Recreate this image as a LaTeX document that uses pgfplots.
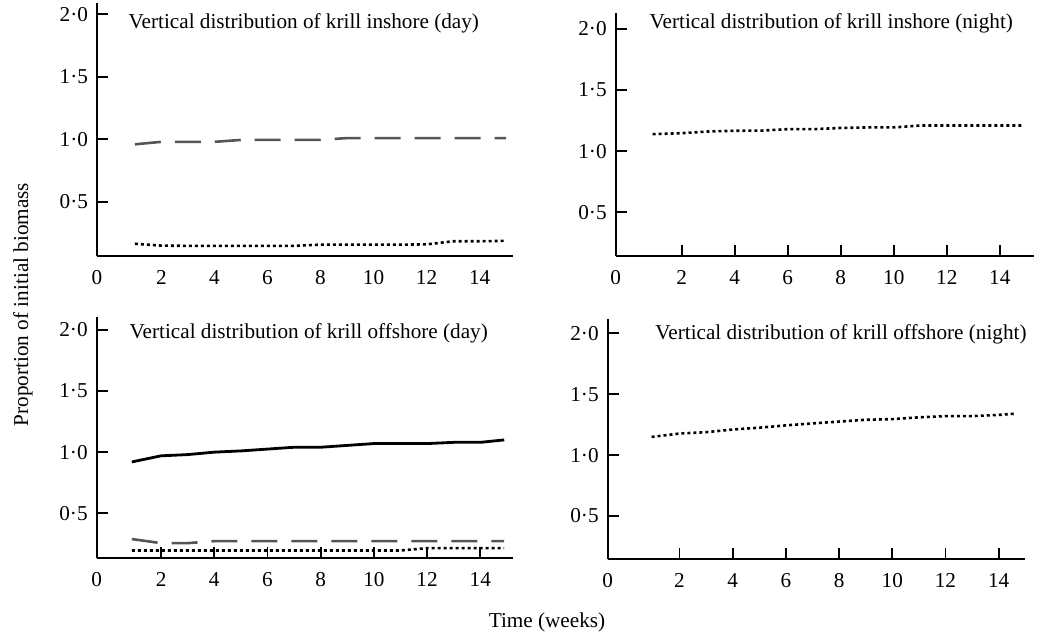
\documentclass[border=0pt]{standalone}
\usepackage{fontspec}
\setmainfont{Liberation Serif}
\usepackage{pgfplots}
\pgfplotsset{compat=1.18}

\definecolor{dashgray}{HTML}{555555}

% shared look of the four panels
\pgfplotsset{
  krill/.style={
    scale only axis,
    axis x line=bottom,
    axis y line=left,
    axis line style={-, line width=1pt},
    tick align=inside,
    major tick length=5.5pt,
    tick style={line width=0.9pt, black},
    ytick={0.5,1,1.5,2},
    yticklabels={0·5,1·0,1·5,2·0},
    font=\fontsize{10.6}{12.6}\selectfont,
    ticklabel style={font=\fontsize{10.6}{12.6}\selectfont},
    xticklabel style={anchor=north, text height=7.3pt, text depth=0pt, inner sep=0pt, yshift=-6.8pt},
    yticklabel style={xshift=-1pt},
    clip=false,
  },
  dotline/.style={black, line width=1.3pt, dash pattern=on 1.5pt off 1.5pt},
  dashline/.style={dashgray, line width=1.3pt, dash pattern=on 13pt off 7pt},
  solidline/.style={black, line width=1.4pt},
}

\begin{document}
\begin{tikzpicture}
\useasboundingbox (0,0) rectangle (518.5pt,-316pt);

% inshore, day
\begin{axis}[krill,
  at={(48.5pt,-128pt)}, anchor=south west,
  width=208pt, height=126.5pt,
  xmin=-0.43, xmax=15.26, ymin=0.067, ymax=2.09,
  xtick={-0.43,2,4,6,8,10,12,14}, xticklabels={0,2,4,6,8,10,12,14},
  xtick style={draw=none}]
\addplot[dashline] coordinates {(1,0.96) (2,0.98) (3,0.98) (4,0.98) (5,0.995) (6,0.995) (7,0.995) (8,0.995) (9,1.01) (10,1.01) (11,1.01) (12,1.01) (13,1.01) (14,1.01) (15,1.01)};
\addplot[dotline] coordinates {(1,0.165) (2,0.15) (3,0.148) (4,0.148) (5,0.148) (6,0.148) (7,0.148) (8,0.158) (9,0.158) (10,0.158) (11,0.158) (12,0.16) (13,0.185) (14,0.185) (15,0.188)};
\end{axis}

% inshore, night
\begin{axis}[krill,
  at={(307.85pt,-128pt)}, anchor=south west,
  width=209.15pt, height=121.35pt,
  xmin=-0.49, xmax=15.29, ymin=0.142, ymax=2.128,
  xtick={-0.49,2,4,6,8,10,12,14}, xticklabels={0,2,4,6,8,10,12,14}]
\addplot[dotline] coordinates {(0.9,1.139) (2,1.147) (3,1.161) (4,1.167) (5,1.168) (6,1.18) (7,1.18) (8,1.19) (9,1.194) (10,1.194) (11,1.21) (12,1.21) (13,1.21) (14,1.21) (14.9,1.21)};
\end{axis}

% offshore, day
\begin{axis}[krill,
  at={(48.35pt,-279.15pt)}, anchor=south west,
  width=208.15pt, height=120.8pt,
  xmin=-0.42, xmax=15.23, ymin=0.133, ymax=2.106,
  xtick={-0.42,2,4,6,8,10,12,14}, xticklabels={0,2,4,6,8,10,12,14}]
\addplot[solidline] coordinates {(0.9,0.92) (2,0.97) (3,0.98) (4,1.0) (5,1.01) (6,1.025) (7,1.04) (8,1.04) (9,1.055) (10,1.07) (11,1.07) (12,1.07) (13,1.08) (14,1.08) (14.9,1.10)};
\addplot[dashline] coordinates {(0.9,0.29) (2,0.257) (3,0.257) (4,0.273) (5,0.273) (6,0.273) (7,0.273) (8,0.273) (9,0.273) (10,0.273) (11,0.273) (12,0.273) (13,0.273) (14,0.273) (14.9,0.273)};
\addplot[dotline] coordinates {(0.9,0.197) (2,0.197) (3,0.197) (4,0.197) (5,0.197) (6,0.197) (7,0.197) (8,0.197) (9,0.197) (10,0.197) (11,0.197) (12,0.216) (13,0.216) (14,0.216) (14.9,0.216)};
\end{axis}

% offshore, night
\begin{axis}[krill,
  at={(303.85pt,-279.65pt)}, anchor=south west,
  width=208.65pt, height=120pt,
  xmin=-0.70, xmax=14.99, ymin=0.144, ymax=2.115,
  xtick={-0.70,2,4,6,8,10,12,14}, xticklabels={0,2,4,6,8,10,12,14}]
\addplot[dotline] coordinates {(0.95,1.149) (2,1.177) (3,1.188) (4,1.21) (5,1.225) (6,1.244) (7,1.26) (8,1.275) (9,1.29) (10,1.295) (11,1.31) (12,1.32) (13,1.32) (14,1.33) (14.6,1.34)};
\end{axis}

% panel titles and shared axis labels
\begin{scope}[every node/.style={inner sep=0pt, font=\fontsize{10.6}{12.6}\selectfont}]
\node[anchor=base west] at (64.15pt,-14pt) {Vertical distribution of krill inshore (day)};
\node[anchor=base west] at (324.65pt,-14.2pt) {Vertical distribution of krill inshore (night)};
\node[anchor=base west] at (64.65pt,-169.15pt) {Vertical distribution of krill offshore (day)};
\node[anchor=base west] at (327.5pt,-169.65pt) {Vertical distribution of krill offshore (night)};
\node[rotate=90] at (11.5pt,-152.25pt) {Proportion of initial biomass};
\node[anchor=base] at (273.5pt,-313.5pt) {Time (weeks)};
\end{scope}
\end{tikzpicture}
\end{document}
